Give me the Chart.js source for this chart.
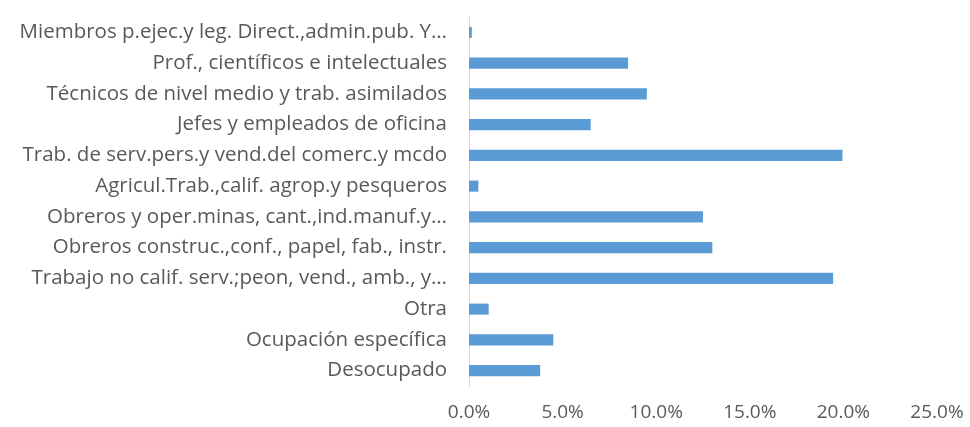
<!DOCTYPE html>
<html>
  <head>
    <meta charset="utf-8">
    <script src="https://cdn.jsdelivr.net/npm/chart.js@4.4.0/dist/chart.umd.min.js"></script>
    <style>
      html, body { margin: 0; padding: 0; background: #fff; }
      #wrap { width: 970px; height: 427px; }
    </style>
  </head>
  <body>
    <div id="wrap"><canvas id="chart-ocupacion"></canvas></div>
    <script>
      // INPUT DATA

      const categorias = [
        "Miembros p.ejec.y leg. Direct.,admin.pub. Y…",
        "Prof., científicos e intelectuales",
        "Técnicos de nivel medio y trab. asimilados",
        "Jefes y empleados de oficina",
        "Trab. de serv.pers.y vend.del comerc.y mcdo",
        "Agricul.Trab.,calif. agrop.y pesqueros",
        "Obreros y oper.minas, cant.,ind.manuf.y…",
        "Obreros construc.,conf., papel, fab., instr.",
        "Trabajo no calif. serv.;peon, vend., amb., y…",
        "Otra",
        "Ocupación específica",
        "Desocupado",
      ];

      // percent values
      const porcentajes = [0.15, 8.5, 9.5, 6.5, 19.95, 0.5, 12.5, 13.0, 19.45, 1.05, 4.5, 3.8];

      const ejeX = { min: 0, max: 25, paso: 5 };

      // PLOT

      const gris = "#595959";

      const ctx = document.getElementById("chart-ocupacion").getContext("2d");
      new Chart(ctx, {
        type: "bar",
        data: {
          labels: categorias,
          datasets: [
            {
              data: porcentajes,
              backgroundColor: "#5B9BD5",
              borderWidth: 0,
              barPercentage: 0.36,
              categoryPercentage: 1,
            },
          ],
        },
        options: {
          indexAxis: "y",
          responsive: true,
          maintainAspectRatio: false,
          animation: false,
          layout: { padding: { top: 17, right: 33, bottom: 3, left: 0 } },
          plugins: { legend: { display: false }, tooltip: { enabled: false } },
          scales: {
            x: {
              min: ejeX.min,
              max: ejeX.max,
              grid: { display: false, drawTicks: false },
              border: { display: false },
              ticks: {
                stepSize: ejeX.paso,
                color: gris,
                font: { family: "'Open Sans'", size: 19 },
                padding: 15,
                maxRotation: 0,
                callback: function (v) {
                  return v.toFixed(1) + "%";
                },
              },
              afterFit: function (scale) {
                scale.height = 38;
                scale.paddingLeft = 0;
                scale.paddingRight = 0;
              },
            },
            y: {
              grid: { display: false, drawTicks: false },
              border: { display: true, color: "#d9d9d9", width: 1 },
              ticks: {
                color: gris,
                font: { family: "'Open Sans'", size: 20.5 },
                padding: 22,
                autoSkip: false,
              },
              afterFit: function (scale) {
                scale.width = 469;
                scale.paddingTop = 0;
                scale.paddingBottom = 0;
              },
            },
          },
        },
      });
    </script>
  </body>
</html>
